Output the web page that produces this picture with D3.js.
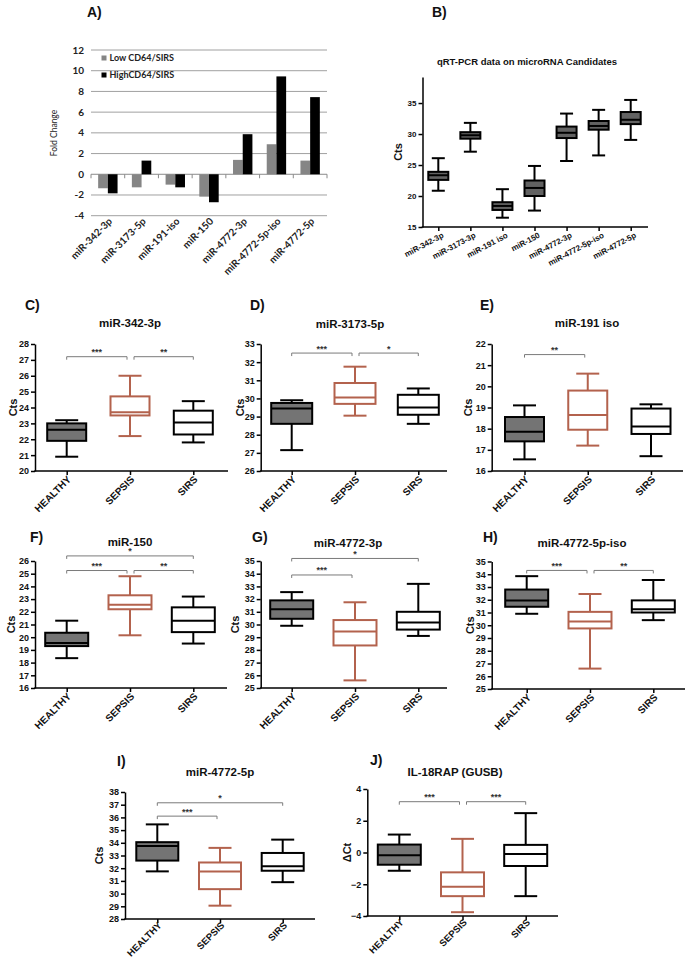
<!DOCTYPE html>
<html>
<head>
<meta charset="utf-8">
<script src="https://cdn.jsdelivr.net/npm/d3@7"></script>
<style>
  html, body { margin: 0; padding: 0; background: #fff; }
  svg { display: block; }
</style>
</head>
<body>
<svg id="fig"></svg>
<script>
// ---- data ----
// A) fold change
const aCategories = ["miR-342-3p", "miR-3173-5p", "miR-191-iso", "miR-150", "miR-4772-3p", "miR-4772-5p-iso", "miR-4772-5p"];
const aLowCD64 = [-1.35, -1.26, -1.0, -2.16, 1.39, 2.9, 1.32];
const aHighCD64 = [-1.84, 1.32, -1.26, -2.7, 3.87, 9.45, 7.45];
const aTicks = [-4, -2, 0, 2, 4, 6, 8, 10, 12];

// B) Cts per candidate: [min, q1, median, q3, max]
const bCategories = ["miR-342-3p", "miR-3173-3p", "miR-191 iso", "miR-150", "miR-4772-3p", "miR-4772-5p-iso", "miR-4772-5p"];
const bBoxes = [
  [20.85, 22.6, 23.35, 23.9, 26.1],
  [27.15, 29.25, 29.8, 30.3, 31.8],
  [16.5, 17.75, 18.4, 19.0, 21.1],
  [17.65, 20.0, 21.3, 22.5, 24.85],
  [25.65, 29.35, 30.2, 31.2, 33.3],
  [26.55, 30.7, 31.3, 32.1, 33.9],
  [29.05, 31.6, 32.3, 33.55, 35.5]
];
const bTicks = [15, 20, 25, 30, 35];

// C-J) groups
const groups = ["HEALTHY", "SEPSIS", "SIRS"];
const cBoxes = [[20.9, 21.9, 22.6, 23.0, 23.2], [22.2, 23.5, 23.7, 24.7, 26.0], [21.8, 22.3, 23.05, 23.8, 24.4]];
const dBoxes = [[27.15, 28.6, 29.45, 29.75, 29.9], [29.05, 29.7, 30.05, 30.85, 31.75], [28.6, 29.1, 29.5, 30.2, 30.55]];
const eBoxes = [[16.55, 17.4, 17.85, 18.55, 19.1], [17.2, 17.95, 18.65, 19.8, 20.6], [16.7, 17.75, 18.1, 18.95, 19.15]];
const fBoxes = [[18.35, 19.3, 19.55, 20.35, 21.3], [20.15, 22.2, 22.55, 23.3, 24.8], [19.5, 20.4, 21.3, 22.35, 23.2]];
const gBoxes = [[29.9, 30.45, 31.2, 31.9, 32.55], [25.6, 28.35, 29.45, 30.35, 31.75], [29.1, 29.6, 30.15, 31.0, 33.2]];
const hBoxes = [[30.9, 31.45, 31.95, 32.8, 33.85], [26.6, 29.75, 30.3, 31.05, 32.45], [30.4, 31.0, 31.25, 31.95, 33.55]];
const iBoxes = [[31.75, 32.6, 33.75, 34.05, 35.45], [29.05, 30.35, 31.75, 32.45, 33.6], [30.9, 31.8, 32.15, 33.2, 34.25]];
const jBoxes = [[-1.15, -0.77, -0.18, 0.5, 1.13], [-3.76, -2.75, -2.16, -1.25, 0.86], [-2.75, -0.85, -0.1, 0.48, 2.48]];

// significance brackets: [fromGroup, toGroup, level, stars]
const cSig = [[0, 1, 27.2, "***"], [1, 2, 27.2, "**"]];
const dSig = [[0, 1, 32.5, "***"], [1, 2, 32.5, "*"]];
const eSig = [[0, 1, 21.5, "**"]];
const fSig = [[0, 2, 26.4, "*"], [0, 1, 25.25, "***"], [1, 2, 25.25, "**"]];
const gSig = [[0, 2, 35.2, "*"], [0, 1, 33.9, "***"]];
const hSig = [[0, 1, 34.3, "***"], [1, 2, 34.3, "**"]];
const iSig = [[0, 2, 37.15, "*"], [0, 1, 36.1, "***"]];
const jSig = [[0, 1, 3.2, "***"], [1, 2, 3.2, "***"]];

const cDomain = [20, 28], dDomain = [26, 33], eDomain = [16, 22], fDomain = [16, 26];
const gDomain = [25, 35], hDomain = [25, 35], iDomain = [28, 38], jDomain = [-4, 4];
const jTicks = [-4, -2, 0, 2, 4];

// ---- drawing ----
const W = 689, H = 960;
const svg = d3.select("#fig").attr("width", W).attr("height", H);
svg.append("rect").attr("width", W).attr("height", H).attr("fill", "#fff");

const PRISM = "'Liberation Sans', Arial, sans-serif";
const EXCEL = "Lato, 'Open Sans', sans-serif";
const SEPSIS_COL = "#b3624d";

function letter(txt, x, y) {
  svg.append("text").attr("x", x).attr("y", y).text(txt)
    .style("font-family", PRISM).style("font-weight", "bold").style("font-size", "14px").attr("fill", "#111");
}

// A) grouped bars (Excel look)
(function panelA() {
  const g = svg.append("g");
  const x = d3.scaleBand().domain(aCategories).range([91, 327]);
  const y = d3.scaleLinear().domain([-4, 12]).range([215.7, 50]);
  const bw = 9.7;

  aTicks.forEach(t => {
    g.append("line").attr("x1", 91).attr("x2", 327).attr("y1", y(t)).attr("y2", y(t))
      .attr("stroke", t === 0 ? "#8a8a8a" : "#a0a0a0").attr("stroke-width", 1);
    g.append("text").attr("x", 84).attr("y", y(t)).attr("dy", "0.35em").attr("text-anchor", "end")
      .text(t).style("font-family", EXCEL).style("font-weight", "bold").style("font-size", "10px").attr("fill", "#222");
  });
  // tick marks on the zero axis
  d3.range(aCategories.length + 1).forEach(i => {
    const xx = 91 + i * x.step();
    g.append("line").attr("x1", xx).attr("x2", xx).attr("y1", y(0)).attr("y2", y(0) + 4)
      .attr("stroke", "#8a8a8a");
  });

  const c = d => x(d) + x.bandwidth() / 2;
  g.selectAll(".low").data(aCategories).join("rect")
    .attr("x", d => c(d) - bw).attr("width", bw)
    .attr("y", (d, i) => y(Math.max(0, aLowCD64[i])))
    .attr("height", (d, i) => Math.abs(y(aLowCD64[i]) - y(0)))
    .attr("fill", "#858585");
  g.selectAll(".high").data(aCategories).join("rect")
    .attr("x", d => c(d)).attr("width", bw)
    .attr("y", (d, i) => y(Math.max(0, aHighCD64[i])))
    .attr("height", (d, i) => Math.abs(y(aHighCD64[i]) - y(0)))
    .attr("fill", "#000");

  g.selectAll(".xl").data(aCategories).join("text")
    .attr("transform", d => `translate(${c(d) + 5},${222}) rotate(-45)`)
    .attr("text-anchor", "end").text(d => d)
    .style("font-family", EXCEL).style("font-weight", "bold").style("font-size", "10px").attr("fill", "#222");

  // legend
  [["Low CD64/SIRS", "#858585"], ["HighCD64/SIRS", "#000"]].forEach(([t, col], i) => {
    const ly = 58 + i * 17;
    g.append("rect").attr("x", 101.5).attr("y", ly - 2.5).attr("width", 5).attr("height", 5).attr("fill", col);
    g.append("text").attr("x", 109.5).attr("y", ly).attr("dy", "0.35em").text(t)
      .style("font-family", EXCEL).style("font-weight", "bold").style("font-size", "9px").attr("fill", "#222");
  });

  g.append("text").attr("transform", `translate(57,133) rotate(-90)`).attr("text-anchor", "middle")
    .text("Fold Change").style("font-family", EXCEL).style("font-size", "8.5px").attr("fill", "#222");
  letter("A)", 87, 17);
})();

// generic Prism box panel
function boxPanel(o) {
  const g = svg.append("g");
  const x = d3.scalePoint().domain(o.cats).range([o.t0, o.t1]);
  const y = d3.scaleLinear().domain(o.domain).range([o.yb, o.yt]);

  // y axis
  const ya = g.append("g").attr("transform", `translate(${o.x0},0)`)
    .call(d3.axisLeft(y).tickValues(o.ticks).tickFormat(d3.format("d")).tickSize(4).tickSizeOuter(0).tickPadding(2));
  ya.select(".domain").attr("stroke", "#000").attr("stroke-width", 1.5);
  ya.selectAll(".tick line").attr("stroke", "#000").attr("stroke-width", 1.5);
  ya.selectAll("text").style("font-family", PRISM).style("font-weight", "bold")
    .style("font-size", o.tickFont || "9px").attr("fill", "#111");

  // x axis
  const xa = g.append("g").attr("transform", `translate(0,${o.yb})`)
    .call(d3.axisBottom(x).tickSize(4).tickSizeOuter(0).tickFormat(""));
  xa.select(".domain").remove();
  xa.selectAll(".tick line").attr("stroke", "#000").attr("stroke-width", 1.5);
  g.append("line").attr("x1", o.x0 - 0.75).attr("x2", o.x1).attr("y1", o.yb).attr("y2", o.yb)
    .attr("stroke", "#000").attr("stroke-width", 1.5);
  g.selectAll(".xl").data(o.cats).join("text")
    .attr("transform", d => `translate(${x(d) + o.lx},${o.yb + o.ly}) rotate(${o.rot})`)
    .attr("text-anchor", "end").text(d => d)
    .style("font-family", PRISM).style("font-weight", "bold").style("font-size", o.labFont || "10px").attr("fill", "#111");

  // boxes
  o.boxes.forEach((b, i) => {
    const cx = x(o.cats[i]);
    const stroke = o.stroke(i), fill = o.fill(i);
    const [mn, q1, md, q3, mx] = b;
    g.append("line").attr("x1", cx).attr("x2", cx).attr("y1", y(mx)).attr("y2", y(mn))
      .attr("stroke", stroke).attr("stroke-width", 2);
    [mn, mx].forEach(v => g.append("line").attr("x1", cx - o.cw / 2).attr("x2", cx + o.cw / 2)
      .attr("y1", y(v)).attr("y2", y(v)).attr("stroke", stroke).attr("stroke-width", 2));
    g.append("rect").attr("x", cx - o.bw / 2).attr("width", o.bw).attr("y", y(q3)).attr("height", y(q1) - y(q3))
      .attr("fill", fill).attr("stroke", stroke).attr("stroke-width", 2);
    g.append("line").attr("x1", cx - o.bw / 2).attr("x2", cx + o.bw / 2).attr("y1", y(md)).attr("y2", y(md))
      .attr("stroke", stroke).attr("stroke-width", 2);
  });

  // brackets
  (o.sig || []).forEach(([a, b, lvl, stars]) => {
    const xa1 = x(o.cats[a]) + (a === 1 ? 4 : 0);
    const xb1 = x(o.cats[b]) - (b === 1 ? 3 : 0);
    const yy = y(lvl);
    g.append("path").attr("d", `M${xa1},${yy + 3}V${yy}H${xb1}V${yy + 3}`)
      .attr("fill", "none").attr("stroke", "#7a7a7a").attr("stroke-width", 1);
    g.append("text").attr("x", (xa1 + xb1) / 2).attr("y", yy - 1.5).attr("text-anchor", "middle")
      .text(stars).style("font-family", PRISM).style("font-weight", "bold").style("font-size", "9px").attr("fill", "#333");
  });

  if (o.title) g.append("text").attr("x", o.titleX).attr("y", o.titleY).attr("text-anchor", "middle")
    .text(o.title).style("font-family", PRISM).style("font-weight", "bold").style("font-size", o.titleFont || "11.5px").attr("fill", "#111");
  g.append("text").attr("transform", `translate(${o.ylx},${(o.yt + o.yb) / 2}) rotate(-90)`)
    .attr("dy", "0.35em").attr("text-anchor", "middle").text(o.ylabel)
    .style("font-family", PRISM).style("font-weight", "bold").style("font-size", "11px").attr("fill", "#111");
}

// B)
boxPanel({
  cats: bCategories, boxes: bBoxes, domain: [15, 39.2], ticks: bTicks,
  x0: 422.5, x1: 648, t0: 438.3, t1: 630.7, yt: 77, yb: 227,
  bw: 20, cw: 13, rot: -28, lx: 6, ly: 10, labFont: "8px", tickFont: "8px",
  stroke: () => "#000", fill: () => "#626262",
  title: "qRT-PCR data on microRNA Candidates", titleX: 527, titleY: 65, titleFont: "9.5px",
  ylabel: "Cts", ylx: 398
});
letter("B)", 432, 17);

const healthyFill = i => (i === 0 ? "#747474" : "#fff");
const groupStroke = i => (i === 1 ? SEPSIS_COL : "#000");
const row = (extra) => Object.assign({
  cats: groups, rot: -45, lx: 5, ly: 9, cw: 23,
  stroke: groupStroke, fill: healthyFill, ylabel: "Cts"
}, extra);

boxPanel(row({ boxes: cBoxes, domain: cDomain, ticks: d3.range(cDomain[0], cDomain[1] + 1), sig: cSig,
  x0: 35, x1: 228, t0: 66.7, t1: 193.3, yt: 344, yb: 471, bw: 39,
  title: "miR-342-3p", titleX: 130, titleY: 327, ylx: 13 }));
boxPanel(row({ boxes: dBoxes, domain: dDomain, ticks: d3.range(dDomain[0], dDomain[1] + 1), sig: dSig,
  x0: 260.7, x1: 447, t0: 291.7, t1: 418.3, yt: 344, yb: 471, bw: 41,
  title: "miR-3173-5p", titleX: 350, titleY: 328, ylx: 240 }));
boxPanel(row({ boxes: eBoxes, domain: eDomain, ticks: d3.range(eDomain[0], eDomain[1] + 1), sig: eSig,
  x0: 491.7, x1: 683, t0: 524.5, t1: 651, yt: 344, yb: 471, bw: 39,
  title: "miR-191 iso", titleX: 587, titleY: 327, ylx: 468 }));
boxPanel(row({ boxes: fBoxes, domain: fDomain, ticks: d3.range(fDomain[0], fDomain[1] + 1), sig: fSig,
  x0: 35, x1: 227, t0: 66.7, t1: 193.3, yt: 561, yb: 688, bw: 43,
  title: "miR-150", titleX: 130, titleY: 546, ylx: 11 }));
boxPanel(row({ boxes: gBoxes, domain: gDomain, ticks: d3.range(gDomain[0], gDomain[1] + 1), sig: gSig,
  x0: 260.7, x1: 447, t0: 291.7, t1: 418.3, yt: 561, yb: 688, bw: 43,
  title: "miR-4772-3p", titleX: 348, titleY: 547, ylx: 235 }));
boxPanel(row({ boxes: hBoxes, domain: hDomain, ticks: d3.range(hDomain[0], hDomain[1] + 1), sig: hSig,
  x0: 491.7, x1: 685, t0: 526.7, t1: 653.3, yt: 561.5, yb: 689, bw: 43,
  title: "miR-4772-5p-iso", titleX: 582, titleY: 547, ylx: 470 }));
boxPanel(row({ boxes: iBoxes, domain: iDomain, ticks: d3.range(iDomain[0], iDomain[1] + 1), sig: iSig,
  x0: 125, x1: 315, t0: 157.3, t1: 282.7, yt: 792, yb: 919, bw: 42, ly: 7, labFont: "9.5px",
  title: "miR-4772-5p", titleX: 220, titleY: 776, ylx: 99 }));
boxPanel(row({ boxes: jBoxes, domain: jDomain, ticks: jTicks, sig: jSig,
  x0: 367.3, x1: 558, t0: 399.3, t1: 525.7, yt: 789, yb: 916, bw: 43, ly: 7, labFont: "9.5px",
  title: "IL-18RAP (GUSB)", titleX: 455, titleY: 776, ylabel: "\u0394Ct", ylx: 347 }));

letter("C)", 25, 310); letter("D)", 250, 310); letter("E)", 480, 310);
letter("F)", 30, 542); letter("G)", 252, 542); letter("H)", 483, 542);
letter("I)", 117, 766); letter("J)", 370, 765);
</script>
</body>
</html>
